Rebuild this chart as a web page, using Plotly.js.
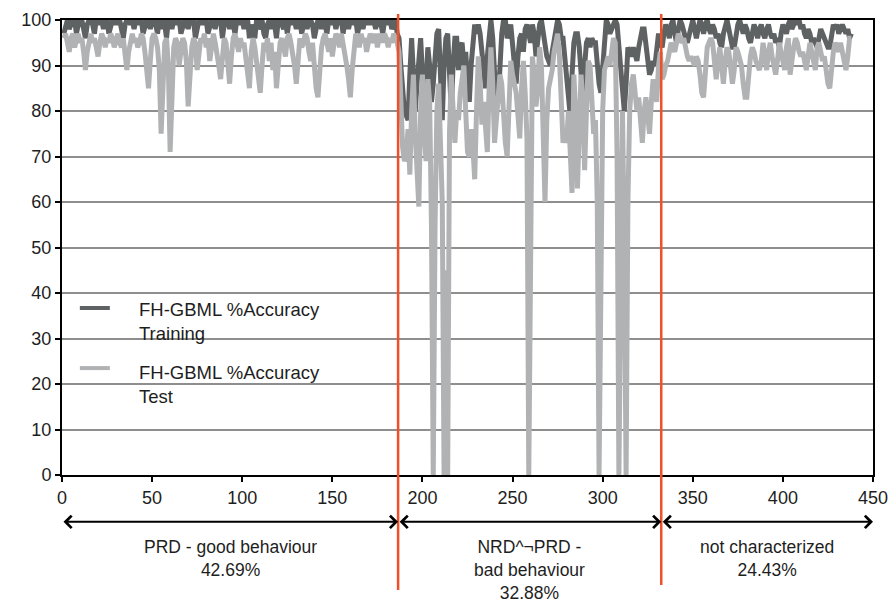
<!DOCTYPE html>
<html><head><meta charset="utf-8">
<script src="https://cdn.plot.ly/plotly-3.0.1.min.js"></script>
<style>html,body{margin:0;padding:0;background:#fff}#chart{width:895px;height:605px}</style>
</head><body><div id="chart"></div>
<script>
// Segment 1 (PRD - good behaviour)
const trainingSeg1 = [97,99,100,98,99,100,100,97,99,100,
100,98,96,99,100,100,99,97,100,100,
99,100,98,100,100,97,99,100,100,99,
100,100,98,96,99,100,100,99,100,98,
100,99,100,100,97,99,100,100,98,100,
100,99,97,100,98,100,99,96,100,100,
98,100,100,99,100,97,99,100,100,98,
100,99,100,96,98,100,100,99,100,100,
97,99,100,100,98,100,99,100,96,99,
100,100,98,100,99,97,100,100,99,100,
98,100,100,96,99,97,96,100,98,99,
100,97,96,99,100,98,100,99,96,100,
100,99,98,100,97,100,100,99,100,98,
100,100,97,99,100,98,100,100,99,96,
99,100,100,98,100,99,97,100,100,99,
100,98,100,99,100,97,100,100,98,100,
99,100,100,97,99,100,98,100,100,99,
100,99,100,98,100,100,99,97,100,99,
100,100,98,99,100,97];
const testSeg1 = [96,97,95,93,96,97,94,96,97,95,
96,93,89,93,96,97,95,96,94,92,
95,97,96,94,96,95,97,96,94,96,
97,95,94,96,92,89,93,96,97,95,
96,94,95,97,96,93,88,85,91,96,
97,96,94,89,75,88,95,96,90,71,
86,94,96,95,90,94,96,95,91,81,
90,94,96,95,89,93,96,95,97,94,
96,91,94,97,95,93,90,87,93,96,
95,91,86,92,96,97,95,93,96,94,
95,92,89,85,93,96,94,91,88,84,
90,95,93,96,91,95,89,93,85,91,
95,96,94,92,96,97,95,93,90,86,
92,96,94,95,97,96,93,91,95,88,
85,83,89,94,96,97,95,93,96,92,
95,97,96,94,97,95,93,90,87,83,
89,95,97,96,94,97,95,96,93,95,
97,96,95,97,94,96,97,95,97,96,
94,96,95,97,96,95];
// Segment 2 (NRD^¬PRD - bad behaviour)
const trainingSeg2 = [96,90,84,80,79,78,88,96,88,80,
86,93,96,88,79,86,94,90,82,86,
93,97,98,90,78,90,96,97,88,80,
90,96,96,89,94,95,90,93,87,82,
90,96,99,97,99,97,92,88,85,92,
98,100,96,86,81,82,90,97,100,100,
96,97,99,95,90,86,92,96,97,93,
98,99,97,95,99,97,92,96,99,100,
97,93,92,91,90,93,96,98,100,99,
96,96,92,87,82,79,88,95,97,97,
94,88,83,90,95,96,94,96,95,95,
90,86,84,90,96,100,99,97,98,99,
100,99,94,88,84,80,86,94,93,92,
94,92,91,94,97,98,98,94,90,88,
89,91,90,94,97,95];
const testSeg2 = [93,82,72,69,70,76,66,80,88,75,
64,59,80,88,75,69,87,82,55,0,
55,80,86,70,60,0,45,0,75,88,
82,73,80,78,84,87,90,80,71,70,
76,72,65,80,92,86,77,82,75,71,
85,94,86,73,78,84,88,86,77,73,
70,80,91,88,86,84,79,74,85,91,
84,74,0,60,92,88,81,85,94,90,
75,60,78,85,87,89,93,96,97,92,
82,73,76,73,80,72,62,88,80,63,
76,88,82,67,80,91,90,84,75,78,
60,0,50,80,89,91,92,90,94,96,
95,70,0,40,80,50,0,60,80,86,
88,84,80,83,78,73,80,83,79,75,
82,87,85,82,90,93];
// Segment 3 (not characterized)
const trainingSeg3 = [94,97,99,98,96,99,100,97,95,98,
100,99,97,96,95,97,99,100,98,96,
98,100,99,97,99,100,98,97,99,98,
96,97,95,94,97,99,100,98,96,94,
94,97,99,100,98,97,99,98,96,95,
97,99,98,96,98,99,97,96,98,99,
97,96,97,95,96,94,97,99,98,97,
99,100,98,99,100,99,100,98,99,97,
96,98,97,95,96,95,94,96,98,97,
96,95,94,94,97,99,98,99,97,98,
99,98,97,98,96,97];
const testSeg3 = [87,88,90,91,93,95,94,93,95,97,
96,95,96,93,92,91,92,91,90,92,
91,88,84,83,90,94,95,96,95,90,
87,91,94,90,86,91,94,93,90,86,
89,94,93,91,90,86,83,83,88,92,
94,93,91,90,89,91,95,92,89,93,
95,92,90,88,91,95,93,90,89,94,
96,88,92,94,96,95,93,92,93,91,
89,92,95,93,90,89,94,95,93,91,
92,88,86,85,90,93,95,94,93,95,
93,91,89,92,96,96];

const seriesNames = ['FH-GBML %Accuracy<br>Training', 'FH-GBML %Accuracy<br>Test'];
const boundaries = [186.5, 332.5];
const groupLabels = ['PRD - good behaviour<br>42.69%', 'NRD^\u00acPRD -<br>bad behaviour<br>32.88%', 'not characterized<br>24.43%'];
const xTicks = [0,50,100,150,200,250,300,350,400,450];
const yTicks = [0,10,20,30,40,50,60,70,80,90,100];

const training = trainingSeg1.concat(trainingSeg2, trainingSeg3);
const test = testSeg1.concat(testSeg2, testSeg3);
const xs = training.map((_, i) => i + 1);

const cTrain = '#5f6263', cTest = '#b1b2b4', cRed = '#ee5128';
const fontFam = 'Liberation Sans, Arial, sans-serif';
const txtCol = '#1e1e1e';

const traces = [
  {x: xs, y: training, type: 'scatter', mode: 'lines', name: seriesNames[0],
   line: {color: cTrain, width: 5}},
  {x: xs, y: test, type: 'scatter', mode: 'lines', name: seriesNames[1],
   line: {color: cTest, width: 5}}
];

const xMax = 450;
const edges = [0, boundaries[0], boundaries[1], xMax];
const shapes = [];
boundaries.forEach((b, i) => {
  shapes.push({type: 'line', xref: 'x', yref: 'paper', x0: b, x1: b,
    y0: 1.013, y1: i === 0 ? -0.253 : -0.242, line: {color: cRed, width: 2.5}});
});
// legend samples
shapes.push({type: 'line', xref: 'paper', yref: 'paper', x0: 0.022, x1: 0.059, y0: 0.367, y1: 0.367, line: {color: cTrain, width: 4}});
shapes.push({type: 'line', xref: 'paper', yref: 'paper', x0: 0.022, x1: 0.059, y0: 0.235, y1: 0.235, line: {color: cTest, width: 4}});

const annotations = [];
for (let i = 0; i < 3; i++) {
  annotations.push({xref: 'x', yref: 'paper', axref: 'x', ayref: 'pixel',
    x: edges[i+1], y: -0.103, ax: edges[i], ay: 0, showarrow: true,
    arrowhead: 4, arrowside: 'end+start', arrowsize: 1.2, arrowwidth: 2, arrowcolor: '#000', text: ''});
  annotations.push({xref: 'x', yref: 'paper', x: (edges[i] + edges[i+1]) / 2, y: -0.131,
    yanchor: 'top', xanchor: 'center', showarrow: false, text: groupLabels[i],
    font: {family: fontFam, size: 17.5, color: txtCol}, align: 'center'});
}
annotations.push({xref: 'paper', yref: 'paper', x: 0.093, y: 0.392, xanchor: 'left', yanchor: 'top',
  showarrow: false, align: 'left', text: seriesNames[0], font: {family: fontFam, size: 18.5, color: txtCol}});
annotations.push({xref: 'paper', yref: 'paper', x: 0.093, y: 0.253, xanchor: 'left', yanchor: 'top',
  showarrow: false, align: 'left', text: seriesNames[1], font: {family: fontFam, size: 18.5, color: txtCol}});

const layout = {
  width: 895, height: 605,
  margin: {l: 62, r: 22, t: 20, b: 130},
  paper_bgcolor: '#fff', plot_bgcolor: '#fff',
  showlegend: false,
  font: {family: fontFam, size: 18, color: txtCol},
  xaxis: {range: [0, xMax], tickvals: xTicks, ticktext: xTicks.map(String),
    showgrid: false, zeroline: false, showline: true, linecolor: '#000', linewidth: 2,
    mirror: true, ticks: 'outside', ticklen: 5, tickwidth: 2, tickcolor: '#000',
    tickfont: {family: fontFam, size: 18, color: txtCol}},
  yaxis: {range: [0, 100], tickvals: yTicks, ticktext: yTicks.map(String),
    showgrid: true, gridcolor: '#8e8e8e', gridwidth: 2, zeroline: false,
    showline: true, linecolor: '#000', linewidth: 2, mirror: true,
    ticks: 'outside', ticklen: 5, tickwidth: 2, tickcolor: '#000',
    tickfont: {family: fontFam, size: 18, color: txtCol}},
  shapes: shapes,
  annotations: annotations
};

Plotly.newPlot('chart', traces, layout, {displayModeBar: false, staticPlot: true});
</script></body></html>
